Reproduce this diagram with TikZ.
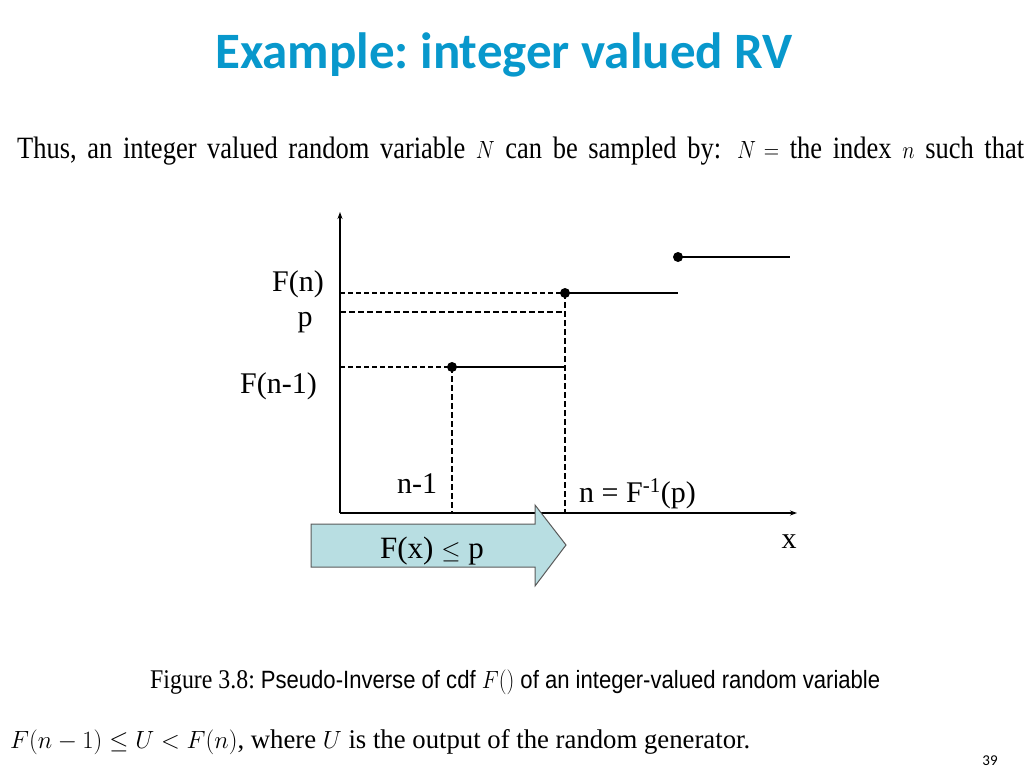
\documentclass[tikz,border=0pt]{standalone}
\usepackage{fontspec}
\setmainfont{Liberation Serif}
\newfontfamily\titlefont{Carlito}
\newfontfamily\capsans{Liberation Sans}
\usetikzlibrary{arrows.meta}
\definecolor{titleblue}{RGB}{8,152,204}
\definecolor{arrowfill}{RGB}{184,222,226}
\definecolor{arrowline}{RGB}{90,90,90}
\tikzset{
  axisline/.style={line width=1.2pt,-{Stealth[length=7pt,width=5pt]}},
  stepline/.style={line width=2.6pt},
  thindash/.style={line width=1.3pt,dash pattern=on 5pt off 3pt},
  thickdash/.style={line width=2.4pt,dash pattern=on 6pt off 3pt},
  dotnode/.style={circle,fill=black,inner sep=0pt,minimum size=10pt},
  lbl/.style={font=\fontsize{30}{34}\selectfont,inner sep=0pt},
  txt/.style={inner sep=0pt},
}
\frenchspacing
\begin{document}
\begin{tikzpicture}[x=1pt,y=-1pt]
\useasboundingbox (0,0) rectangle (1024,768);
% title
\node[txt,anchor=base,text=titleblue,font=\titlefont\bfseries\fontsize{51}{56}\selectfont] (title) at (504,68) {Example: integer valued RV};
% top line
\node[txt,anchor=base west] (intro) at (17,158) {\resizebox{1007pt}{\height}{\fontsize{31}{36}\selectfont\spaceskip=0.4em plus 0.1em Thus, an integer valued random variable $N$ can be sampled by:\hspace{0.6em}$N$\hspace{0.3em}$=$ the index $n$ such that}};
% axes
\coordinate (O) at (340,513);
\coordinate (ytop) at (340,212);
\coordinate (xend) at (797,513);
\draw[axisline] (O) -- (ytop);
\draw[axisline] (O) -- (xend);
% points
\node[dotnode] (d1) at (452,367) {};
\node[dotnode] (d2) at (565,293) {};
\node[dotnode] (d3) at (678,257) {};
\coordinate (e1) at (565,367);
\coordinate (e2) at (678,293);
\coordinate (e3) at (790,257);
\draw[stepline] (d1.center) -- (e1);
\draw[stepline] (d2.center) -- (e2);
\draw[stepline] (d3.center) -- (e3);
% dashed guides
\coordinate (yFn) at (340,293);
\coordinate (yp) at (340,312);
\coordinate (pend) at (565,312);
\coordinate (yFn1) at (340,367);
\coordinate (xn1) at (452,513);
\coordinate (xn) at (565,513);
\draw[thindash] (yFn) -- (d2.center);
\draw[thickdash] (yp) -- (pend);
\draw[thindash] (yFn1) -- (d1.center);
\draw[thickdash] (d1.center) -- (xn1);
\draw[thickdash] (d2.center) -- (xn);
% labels
\node[lbl,anchor=base east] (lFn) at (324,291) {F(n)};
\node[lbl,anchor=base] (lp) at (305,326) {p};
\node[lbl,anchor=base east] (lFn1) at (317,393) {F(n-1)};
\node[lbl,anchor=base] (ln1) at (417,493) {n-1};
\node[lbl,anchor=base west] (ln) at (579,502) {n = F\textsuperscript{-1}(p)};
\node[lbl,anchor=base] (lx) at (789,548) {x};
% block arrow
\draw[fill=arrowfill,draw=arrowline,line width=1pt]
  (311,524) -- (535,524) -- (535,505) -- (566,545) -- (535,586) -- (535,567) -- (311,567) -- cycle;
\node[lbl,anchor=base,font=\fontsize{31}{35}\selectfont] (larrow) at (432,558) {F(x) $\leq$ p};
% caption
\node[txt,anchor=base west] (caption) at (150,688) {\resizebox{730pt}{\height}{\fontsize{27}{32}\selectfont Figure 3.8: {\capsans\fontsize{25}{30}\selectfont Pseudo-Inverse of cdf $F()$ of an integer-valued random variable}}};
% bottom line
\node[txt,anchor=base west] (bottom) at (10,748) {\resizebox{740pt}{\height}{\fontsize{27}{32}\selectfont $F(n-1)\leq U<F(n)$, where $U$ is the output of the random generator.}};
% page number
\node[txt,anchor=base,font=\titlefont\fontsize{15}{18}\selectfont] (pagenum) at (990,765) {39};
\end{tikzpicture}
\end{document}
